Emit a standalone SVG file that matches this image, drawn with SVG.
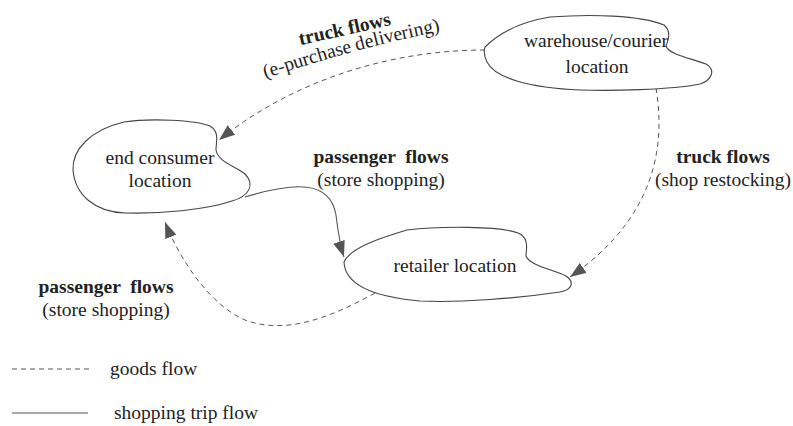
<svg xmlns="http://www.w3.org/2000/svg" width="793" height="426" viewBox="0 0 793 426">
<defs>
<style>
.blob{fill:#fff;stroke:#444;stroke-width:1.1}
.t{font-family:"Liberation Serif","Times New Roman",serif;font-size:19.5px;fill:#222;text-anchor:middle}
.b{font-weight:bold}
.dash{fill:none;stroke:#555;stroke-width:1;stroke-dasharray:5,4}
.solid{fill:none;stroke:#555;stroke-width:1.1}
</style>
<marker id="ah" viewBox="0 0 16 12" refX="16" refY="6" markerWidth="16" markerHeight="12" markerUnits="userSpaceOnUse" orient="auto">
<path d="M0,0 L16,6 L0,12 Z" fill="#555"/>
</marker>
<path id="arcLabel" d="M257,81 Q368,44 448,30"/>
</defs>
<rect width="793" height="426" fill="#fff"/>
<g id="connectors">
<path class="dash" d="M485,50 C400,50 300,75 219,140" marker-end="url(#ah)"/>
<path class="solid" d="M245,197 C295,182 330,180 336,215 C338,232 340,245 344,257" marker-end="url(#ah)"/>
<path class="dash" d="M656,88 C668,160 645,225 570,277" marker-end="url(#ah)"/>
<path class="dash" d="M375,293 C330,318 285,335 245,320 C210,305 180,260 165,222" marker-end="url(#ah)"/>
</g>
<g id="warehouse">
<path class="blob" d="M485,47 C500,32 520,22 550,17 C590,14 640,15 664,25 C672,32 668,40 666,46 C668,54 690,58 706,64 C716,70 712,80 700,84 C670,90 610,91 580,90 C530,88 495,78 487,62 C484,56 484,50 485,47 Z"/>
<text class="t" x="596" y="47">warehouse/courier</text>
<text class="t" x="597" y="73">location</text>
</g>
<g id="endconsumer">
<path class="blob" d="M124,122 C150,118 195,120 210,126 C220,132 216,142 216,150 C218,162 235,166 245,174 C255,184 250,196 232,201 C205,210 160,214 125,213 C95,212 75,195 73,170 C72,150 90,130 124,122 Z"/>
<text class="t" x="160" y="164">end consumer</text>
<text class="t" x="160" y="187">location</text>
</g>
<g id="retailer">
<path class="blob" d="M344,262 C350,248 380,238 407,230 C440,226 500,226 518,233 C530,238 526,250 526,256 C530,266 555,270 566,276 C575,282 572,290 560,292 C520,298 460,303 420,301 C375,297 345,285 344,262 Z"/>
<text class="t" x="455" y="272">retailer location</text>
</g>
<g id="labels">
<text class="t b" transform="translate(346,35) rotate(-12.5)">truck flows</text>
<text class="t"><textPath href="#arcLabel" startOffset="50%">(e-purchase delivering)</textPath></text>
<text class="t b" x="381" y="163" xml:space="preserve">passenger  flows</text>
<text class="t" x="381" y="186">(store shopping)</text>
<text class="t b" x="723" y="163">truck flows</text>
<text class="t" x="723" y="186">(shop restocking)</text>
<text class="t b" x="106" y="293" xml:space="preserve">passenger  flows</text>
<text class="t" x="106" y="316">(store shopping)</text>
</g>
<g id="legend">
<line class="dash" x1="12" y1="369" x2="92" y2="369"/>
<text class="t" x="110" y="375" style="text-anchor:start">goods flow</text>
<line class="solid" x1="12" y1="413" x2="88" y2="413"/>
<text class="t" x="114" y="419" style="text-anchor:start">shopping trip flow</text>
</g>
</svg>
